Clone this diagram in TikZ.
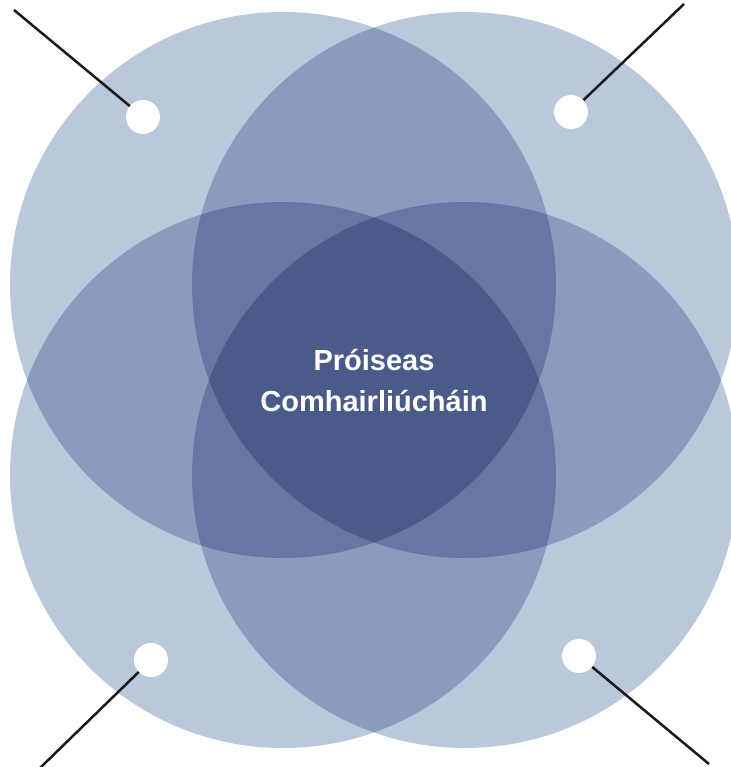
\documentclass[tikz,border=0pt]{standalone}
\usepackage{fontspec}
\setmainfont{Liberation Sans}
\definecolor{lone}{HTML}{BAC8DC}
\definecolor{ltwo}{HTML}{8A9BBE}
\definecolor{lthree}{HTML}{6677A3}
\definecolor{lfour}{HTML}{4A5B8A}
\definecolor{leader}{HTML}{1A1A1A}
\begin{document}
\begin{tikzpicture}[x=1pt,y=-1pt,
  dot/.style={circle,fill=white,inner sep=0pt,minimum size=34pt},
  leaderline/.style={draw=leader,line width=2.5pt},
  title/.style={text=white,font=\bfseries\fontsize{29}{41}\selectfont,align=center}]
\useasboundingbox (0,0) rectangle (730,767);
\def\cA{(283,285) circle[radius=273]}
\def\cB{(465,285) circle[radius=273]}
\def\cC{(283,475) circle[radius=273]}
\def\cD{(465,475) circle[radius=273]}
% level 1
\fill[lone] \cA; \fill[lone] \cB; \fill[lone] \cC; \fill[lone] \cD;
% level 2: pairs
\begin{scope}\clip \cA; \fill[ltwo] \cB; \fill[ltwo] \cC; \fill[ltwo] \cD; \end{scope}
\begin{scope}\clip \cB; \fill[ltwo] \cC; \fill[ltwo] \cD; \end{scope}
\begin{scope}\clip \cC; \fill[ltwo] \cD; \end{scope}
% level 3: triples
\begin{scope}\clip \cA; \clip \cB; \fill[lthree] \cC; \fill[lthree] \cD; \end{scope}
\begin{scope}\clip \cA; \clip \cC; \fill[lthree] \cD; \end{scope}
\begin{scope}\clip \cB; \clip \cC; \fill[lthree] \cD; \end{scope}
% level 4
\begin{scope}\clip \cA; \clip \cB; \clip \cC; \fill[lfour] \cD; \end{scope}
% title
\node[title] (t) at (374,381) {Próiseas\\Comhairliúcháin};
% dots and leaders
\node[dot] (d1) at (143,117) {};
\node[dot] (d2) at (571,112) {};
\node[dot] (d3) at (151,660) {};
\node[dot] (d4) at (579,656) {};
\coordinate (e1) at (14,10);
\coordinate (e2) at (684,4);
\coordinate (e3) at (40,768);
\coordinate (e4) at (709,764);
\draw[leaderline] (e1) -- (d1);
\draw[leaderline] (e2) -- (d2);
\draw[leaderline] (e3) -- (d3);
\draw[leaderline] (e4) -- (d4);
\end{tikzpicture}
\end{document}
